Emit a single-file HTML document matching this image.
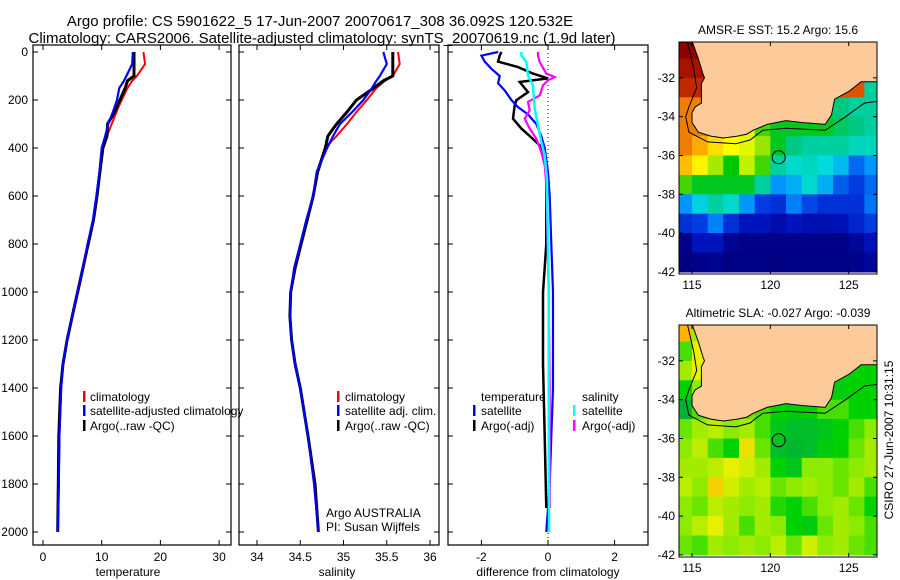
<!DOCTYPE html>
<html><head><meta charset="utf-8"><style>
body{margin:0;background:#fff;}
svg{display:block;font-family:"Liberation Sans",sans-serif;}
text{fill:#000;}
</style></head><body>
<svg id="fig" width="900" height="580" viewBox="0 0 900 580" xmlns="http://www.w3.org/2000/svg">
<rect width="900" height="580" fill="#fff"/>
<text x="320" y="26" font-size="15" text-anchor="middle">Argo profile: CS 5901622_5 17-Jun-2007 20070617_308 36.092S 120.532E</text>
<text x="322" y="43" font-size="15" text-anchor="middle">Climatology: CARS2006. Satellite-adjusted climatology: synTS_20070619.nc (1.9d later)</text>
<g id="layer"></g>
</svg>
<script>
// ---------- profile data ----------
const depths = [0,50,100,120,150,200,250,300,350,400,500,600,700,800,900,1000,1100,1200,1300,1400,1600,1800,2000];
const tempClim = [17.1,17.4,16.0,15.2,14.4,13.4,12.5,11.7,10.9,10.2,9.7,9.2,8.6,7.7,6.9,6.0,5.0,4.1,3.4,3.1,2.8,2.7,2.5];
const tempSat  = [15.3,15.2,14.2,13.8,13.0,12.6,11.9,11.1,10.6,10.0,9.6,9.1,8.5,7.6,6.8,5.9,5.0,4.1,3.4,3.1,2.8,2.7,2.5];
const tempArgo = [15.5,15.5,15.5,14.4,14.0,13.1,12.2,11.0,10.9,10.2,9.7,9.2,8.6,7.7,6.8,5.9,5.0,4.1,3.4,3.0,2.7,2.6,2.5];
const salClim = [35.63,35.65,35.57,35.48,35.38,35.27,35.15,35.04,34.92,34.79,34.69,34.65,34.57,34.5,34.43,34.39,34.38,34.4,34.44,34.5,34.59,34.66,34.71];
const salSat  = [35.46,35.5,35.42,35.38,35.33,35.23,35.1,34.96,34.88,34.81,34.69,34.65,34.57,34.5,34.43,34.39,34.38,34.4,34.44,34.5,34.59,34.66,34.71];
const salArgo = [35.57,35.57,35.57,35.46,35.35,35.15,35.04,34.92,34.82,34.79,34.70,34.65,34.58,34.51,34.44,34.39,34.38,34.4,34.44,34.5,34.59,34.67,34.71];
// difference panel
const dTempSatDepth = [0,15,40,70,100,130,160,200,230,260,300,350,400,450,500,600,800,1000,1200,1400,1600,1800,2000];
const dTempSat      = [-1.5,-2.0,-1.9,-1.7,-1.45,-1.5,-1.3,-1.1,-0.9,-0.6,-0.35,-0.2,-0.1,-0.05,0,0.05,0.1,0.15,0.15,0.15,0.1,0.05,-0.05];
const dTempArgoDepth = [0,15,40,63,90,110,125,167,201,222,278,319,350,389,431,500,800,900,1000,1300,1600,1900];
const dTempArgo      = [-1.4,-1.45,-1.5,-0.9,-0.45,0,-0.85,-0.6,-0.95,-1.0,-1.05,-0.8,-0.55,-0.25,-0.1,-0.05,-0.05,-0.1,-0.15,-0.15,-0.1,-0.05];
const dSalSatDepth = [0,14,42,97,139,236,306,375,431,530,1000,2000];
const dSalSat      = [-0.8,-0.8,-0.65,-0.6,-0.45,-0.4,-0.3,-0.2,-0.1,-0.03,0.02,0.03];
const dSalArgoDepth = [0,14,42,90,104,118,139,181,208,243,278,319,361,417,472,550,1000,1400,1900];
const dSalArgo      = [-0.3,-0.3,-0.25,-0.05,0.2,0.0,-0.15,-0.25,-0.6,-0.55,-0.7,-0.55,-0.35,-0.2,-0.1,-0.05,0.02,0.05,0.05];
const depthTicks = [0,200,400,600,800,1000,1200,1400,1600,1800,2000];
const tempTicks = [0,10,20,30];
const salTicks = [34,34.5,35,35.5,36];
const salTickLabels = ["34","34.5","35","35.5","36"];
const diffTicks = [-2,0,2];
// ---------- map data (1-degree cells, rows lat -30..-42, cols lon 114..126) ----------
const mapLons = [114,115,116,117,118,119,120,121,122,123,124,125,126];
const mapLats = [-30,-31,-32,-33,-34,-35,-36,-37,-38,-39,-40,-41];
const sstGrid = [
[21.5,21.5,20,20,20,20,20,20,20,20,20,20,20],
[21,21,20,20,20,20,20,20,20,20,20,20,20],
[20.5,20.5,20,20,20,20,20,20,20,20,20,20,16],
[19.5,19.5,19,19,19,19,19,19,19,16.3,16.2,16,16],
[19.5,19.5,19,19,18,17,16.5,16.5,16.5,16.5,16.3,16.2,16],
[19.5,19,18.5,18.2,18,17.5,16.5,16.2,16,16,16,15.8,15.8],
[18.8,18.3,17.6,16.6,17.8,17,16,15.7,15.8,15.6,15.3,14.6,15],
[17,16.5,16.5,16.5,16.5,16,15,15.2,15.7,15.2,14.5,14.2,14.6],
[15,15.5,16,15.7,15,14.2,14,14.8,14.3,14,14,14,14.7],
[14,14.2,14.8,14,13.5,13.5,13.2,13.5,13.3,13.3,13.4,13.8,14.2],
[12.8,13.5,13.5,12.9,12.8,12.8,12.8,12.8,12.8,12.8,12.8,13,13.4],
[12.7,12.8,12.9,12.7,12.7,12.7,12.7,12.7,12.7,12.7,12.7,12.8,13]];
const slaGrid = [
[0.12,0.05,0,0,0,0,0,0,0,0,0,0,0],
[0.02,0.08,0,0,0,0,0,0,0,0,0,0,0],
[0.05,0.08,0,0,0,0,0,0,0,0,0,0,0],
[0.0,0.04,0,0,0,0,0,0,0,0.0,-0.01,0.0,0.0],
[-0.05,0.02,0.04,0.03,0.03,0.02,0.0,-0.01,0.0,0.02,0.02,0.0,0.0],
[0.03,0.05,0.06,0.04,0.05,0.02,-0.02,-0.03,-0.03,-0.02,0.0,0.02,0.04],
[0.04,0.06,0.02,0.0,0.09,0.03,-0.03,-0.04,-0.03,-0.01,0.0,0.03,0.05],
[0.05,0.05,0.06,0.08,0.07,0.05,0.0,-0.02,0.04,0.04,0.03,0.04,0.05],
[0.06,0.04,0.1,0.07,0.05,0.06,0.03,0.04,0.05,0.04,0.03,0.05,0.02],
[0.04,0.03,0.06,0.05,0.04,0.05,0.01,0.0,0.02,0.04,0.05,0.03,0.0],
[0.04,0.06,0.08,0.05,0.02,0.05,0.04,0.0,-0.01,0.03,0.05,0.04,0.02],
[0.03,0.02,0.05,0.04,0.05,0.04,0.06,0.03,0.07,0.04,0.05,0.03,0.02]];
const coastLon = [115.0,115.4,115.7,115.8,115.6,115.6,115.2,115.0,115.0,115.4,116.2,117.0,117.9,118.5,118.9,119.8,121.0,122.0,123.5,123.9,124.1,125.0,125.8,126.9,126.9];
const coastLat = [-30.1,-31.0,-31.8,-32.0,-32.3,-33.3,-33.5,-33.8,-34.3,-34.8,-35.0,-35.1,-35.0,-34.9,-34.7,-34.4,-34.2,-34.3,-34.4,-33.9,-33.1,-32.7,-32.2,-32.2,-30.1];
const isoLon = [114.7,115.1,115.3,114.8,114.6,114.8,116.0,117.8,118.7,119.5,121.0,123.5,124.8,126.0,126.9];
const isoLat = [-30.1,-31.5,-32.5,-33.5,-34.0,-34.8,-35.3,-35.4,-35.2,-34.7,-34.6,-34.7,-34.0,-33.3,-33.2];
const floatLon = 120.532, floatLat = -36.092;
const mapLonTicks = [115,120,125];
const mapLatTicks = [-32,-34,-36,-38,-40,-42];

const NS = "http://www.w3.org/2000/svg";
const layer = document.getElementById('layer');
function mk(tag, attrs, parent) {
  const e = document.createElementNS(NS, tag);
  for (const k in attrs) e.setAttribute(k, attrs[k]);
  (parent || layer).appendChild(e);
  return e;
}
const yTop = 52, yScale = 0.24;
const yD = d => yTop + d * yScale;
const xT = v => 43 + 5.87 * v;
const xS = v => 257 + 86.5 * (v - 34);
const xDiff = v => 548 + 33.3 * v;

function panelBox(x0, x1, name) {
  const r = mk('rect', {x: x0, y: 45, width: x1 - x0, height: 500, fill: 'none', stroke: '#000', 'stroke-width': 1.2});
  
  
}
function series(xf, vals, ds, color, w, name) {
  const pts = vals.map((v, i) => xf(v).toFixed(1) + ',' + yD(ds[i]).toFixed(1)).join(' ');
  const p = mk('polyline', {points: pts, fill: 'none', stroke: color, 'stroke-width': w, 'stroke-linejoin': 'miter'});
  
  
}
function xTicks(xf, ticks, labels) {
  ticks.forEach((t, i) => {
    const x = xf(t);
    const a = mk('line', {x1: x, x2: x, y1: 545, y2: 540, stroke: '#000'});
    
    
    const b = mk('line', {x1: x, x2: x, y1: 45, y2: 50, stroke: '#000'});
    
    
    const l = mk('text', {x: x, y: 561, 'font-size': 12, 'text-anchor': 'middle'});
    l.textContent = labels[i];
    
    
  });
}
function yTicks(x0, x1, withLabels) {
  depthTicks.forEach(d => {
    const y = yD(d);
    const a = mk('line', {x1: x0, x2: x0 + 5, y1: y, y2: y, stroke: '#000'});
    
    
    const b = mk('line', {x1: x1, x2: x1 - 5, y1: y, y2: y, stroke: '#000'});
    
    
    if (withLabels) {
      const l = mk('text', {x: 28, y: y + 4, 'font-size': 12, 'text-anchor': 'end'});
      l.textContent = d;
      
      
    }
  });
}
function txt(x, y, s, name, size, anchor) {
  const t = mk('text', {x: x, y: y, 'font-size': size || 12, 'text-anchor': anchor || 'start'});
  t.textContent = s;
  
  
  return t;
}
function legBar(x, y, color) {
  const r = mk('rect', {x: x, y: y - 10, width: 2.5, height: 11, fill: color});
  
  
}

panelBox(33, 231, 'temperature-panel');
yTicks(33, 231, true);
xTicks(xT, tempTicks, tempTicks.map(String));
series(xT, tempClim, depths, '#f00', 2, 'temperature-climatology-line');
series(xT, tempArgo, depths, '#000', 3, 'temperature-argo-line');
series(xT, tempSat, depths, '#00f', 2.2, 'temperature-satellite-line');
txt(128, 576, 'temperature', 'x-axis-title-temperature', 12, 'middle');
legBar(83, 401, '#f00'); txt(90, 401, 'climatology', 'legend-entry-climatology');
legBar(83, 415, '#00f'); txt(90, 415, 'satellite-adjusted climatology', 'legend-entry-satellite');
legBar(83, 430, '#000'); txt(90, 430, 'Argo(..raw -QC)', 'legend-entry-argo');

panelBox(239, 439, 'salinity-panel');
yTicks(239, 439, false);
xTicks(xS, salTicks, salTickLabels);
series(xS, salClim, depths, '#f00', 2, 'salinity-climatology-line');
series(xS, salArgo, depths, '#000', 3, 'salinity-argo-line');
series(xS, salSat, depths, '#00f', 2.2, 'salinity-satellite-line');
txt(337, 576, 'salinity', 'x-axis-title-salinity', 12, 'middle');
legBar(337, 401, '#f00'); txt(345, 401, 'climatology', 'legend-entry-climatology');
legBar(337, 415, '#00f'); txt(345, 415, 'satellite adj. clim.', 'legend-entry-satellite');
legBar(337, 430, '#000'); txt(345, 430, 'Argo(..raw -QC)', 'legend-entry-argo');
txt(326, 517, 'Argo AUSTRALIA', 'credit-argo-australia');
txt(326, 531, 'PI: Susan Wijffels', 'credit-pi');

panelBox(448, 648, 'difference-panel');
yTicks(448, 648, false);
xTicks(xDiff, diffTicks, diffTicks.map(String));
const zl = mk('line', {x1: xDiff(0), x2: xDiff(0), y1: 45, y2: 545, stroke: '#000', 'stroke-dasharray': '1,3'});


series(xDiff, dTempArgo, dTempArgoDepth, '#000', 2.5, 'diff-temperature-argo-line');
series(xDiff, dTempSat, dTempSatDepth, '#00f', 2.2, 'diff-temperature-satellite-line');
series(xDiff, dSalArgo, dSalArgoDepth, '#f0f', 2.2, 'diff-salinity-argo-line');
series(xDiff, dSalSat, dSalSatDepth, '#0ff', 2.5, 'diff-salinity-satellite-line');
txt(548, 576, 'difference from climatology', 'x-axis-title-difference', 12, 'middle');
txt(481, 401, 'temperature', 'legend-header-temperature');
legBar(473, 415, '#00f'); txt(481, 415, 'satellite', 'legend-entry-temp-satellite');
legBar(473, 430, '#000'); txt(481, 430, 'Argo(-adj)', 'legend-entry-temp-argo');
txt(582, 401, 'salinity', 'legend-header-salinity');
legBar(573, 415, '#0ff'); txt(582, 415, 'satellite', 'legend-entry-sal-satellite');
legBar(573, 430, '#f0f'); txt(582, 430, 'Argo(-adj)', 'legend-entry-sal-argo');

function interp(stops, v) {
  if (v <= stops[0][0]) return stops[0].slice(1);
  for (let i = 1; i < stops.length; i++) {
    if (v <= stops[i][0]) {
      const a = stops[i - 1], b = stops[i], f = (v - a[0]) / (b[0] - a[0]);
      return [1, 2, 3].map(k => Math.round(a[k] + f * (b[k] - a[k])));
    }
  }
  return stops[stops.length - 1].slice(1);
}
const sstStops = [[12.7,0,0,130],[13.5,0,20,190],[14.2,0,60,225],[15,0,150,255],[15.6,0,220,220],[16.2,0,200,130],[16.6,0,200,0],[17.5,150,230,0],[18.2,255,255,0],[19,255,170,0],[19.8,230,100,0],[20.6,190,30,0],[21.5,140,0,0]];
const slaStops = [[-0.1,0,150,80],[-0.03,0,190,40],[0,0,210,0],[0.04,140,235,0],[0.08,230,240,0],[0.12,255,180,0]];

function drawMap(top, grid, stops, title, name) {
  const x0 = 679, x1 = 877, lon0 = 114.17, lonS = 15.67;
  const lat0 = -30.15, latS = 19.4;
  const bottom = top + 232;
  const mx = lon => x0 + (lon - lon0) * lonS;
  const my = lat => top + (lat0 - lat) * latS;
  const g = mk('g', {});
  
  
  const cid = name + '-clip';
  const cp = mk('clipPath', {id: cid}, g);
  mk('rect', {x: x0, y: top, width: x1 - x0, height: bottom - top}, cp);
  const cg = mk('g', {'clip-path': 'url(#' + cid + ')'}, g);
  grid.forEach((row, r) => row.forEach((v, c) => {
    const c3 = interp(stops, v);
    const cell = mk('rect', {x: mx(mapLons[c]).toFixed(1), y: my(mapLats[r]).toFixed(1), width: (lonS + 0.6).toFixed(1), height: (latS + 0.6).toFixed(1), fill: 'rgb(' + c3.join(',') + ')'}, cg);
    
    
  }));
  const land = mk('polygon', {points: coastLon.map((l, i) => mx(l).toFixed(1) + ',' + my(coastLat[i]).toFixed(1)).join(' '), fill: '#fdca9a', stroke: '#000', 'stroke-width': 1}, cg);
  
  
  const iso = mk('polyline', {points: isoLon.map((l, i) => mx(l).toFixed(1) + ',' + my(isoLat[i]).toFixed(1)).join(' '), fill: 'none', stroke: '#000', 'stroke-width': 1}, cg);
  
  
  const fc = mk('circle', {cx: mx(floatLon), cy: my(floatLat), r: 6.5, fill: 'none', stroke: '#000', 'stroke-width': 1}, g);
  
  
  const box = mk('rect', {x: x0, y: top, width: x1 - x0, height: bottom - top, fill: 'none', stroke: '#000'}, g);
  
  
  mapLonTicks.forEach(l => {
    const x = mx(l);
    const a = mk('line', {x1: x, x2: x, y1: bottom, y2: bottom - 4, stroke: '#000'}, g);
    
    
    const b = mk('line', {x1: x, x2: x, y1: top, y2: top + 4, stroke: '#000'}, g);
    
    
    const t = mk('text', {x: x, y: bottom + 15, 'font-size': 12, 'text-anchor': 'middle'}, g);
    t.textContent = l;
    
    
  });
  mapLatTicks.forEach(l => {
    const y = my(l);
    const a = mk('line', {x1: x0, x2: x0 + 4, y1: y, y2: y, stroke: '#000'}, g);
    
    
    const b = mk('line', {x1: x1, x2: x1 - 4, y1: y, y2: y, stroke: '#000'}, g);
    
    
    const t = mk('text', {x: 675, y: y + 4, 'font-size': 12, 'text-anchor': 'end'}, g);
    t.textContent = l;
    
    
  });
  const tt = mk('text', {x: 778, y: top - 8, 'font-size': 12, 'text-anchor': 'middle'}, g);
  tt.textContent = title;
  
  
}
drawMap(42, sstGrid, sstStops, 'AMSR-E SST: 15.2 Argo: 15.6', 'sst-map');
drawMap(325, slaGrid, slaStops, 'Altimetric SLA: -0.027 Argo: -0.039', 'sla-map');
const stamp = txt(0, 0, 'CSIRO 27-Jun-2007 10:31:15', 'timestamp-label', 12, 'middle');
stamp.setAttribute('transform', 'translate(893,440) rotate(-90)');
</script>
</body></html>
